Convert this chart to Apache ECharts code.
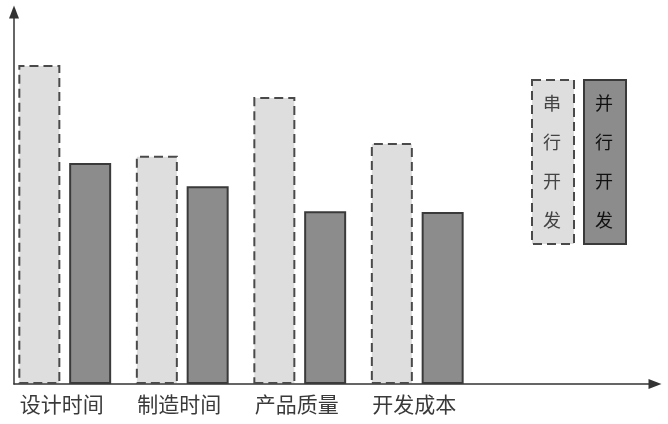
<!DOCTYPE html>
<html>
<head>
<meta charset="utf-8">
<script src="https://cdn.jsdelivr.net/npm/echarts@6/dist/echarts.min.js"></script>
<style>html,body{margin:0;padding:0;background:#fff}#c{width:668px;height:424px}</style>
</head>
<body>
<div id="c"></div>
<script>
const categories = ['设计时间', '制造时间', '产品质量', '开发成本'];
const seriesNames = ['串行开发', '并行开发'];
const serialValues = [84.2, 60.2, 75.7, 63.6];
const parallelValues = [58.3, 52.2, 45.6, 45.4];

const chart = echarts.init(document.getElementById('c'), null, {renderer: 'canvas'});
const font = '"Noto Sans CJK SC", "Noto Sans", sans-serif';
const lightStyle = {color: '#dedede', borderColor: '#4a4a4a', borderWidth: 2, borderType: [9, 5]};
const darkStyle = {color: '#8c8c8c', borderColor: '#3a3a3a', borderWidth: 2};

function legendText(name, cx, color) {
  return {
    type: 'text', x: cx, y: 84, z: 100, zlevel: 1,
    style: {text: name.split('').join('\n'), fontSize: 18, lineHeight: 39,
            fontFamily: font, fill: color, align: 'center', verticalAlign: 'top',
            stroke: 'none', lineWidth: 0, opacity: 1}
  };
}

chart.setOption({
  animation: false,
  backgroundColor: '#fff',
  grid: [
    {left: 14, right: 13, top: 12, bottom: 40},
    {left: 6, width: 470, top: 5, bottom: 40}
  ],
  xAxis: [
    {gridIndex: 0, type: 'value', min: 0, max: 1,
     axisLine: {show: true, symbol: ['none', 'triangle'], symbolSize: [10, 13], lineStyle: {color: '#333', width: 1.5}},
     axisTick: {show: false}, axisLabel: {show: false}, splitLine: {show: false}},
    {gridIndex: 1, type: 'category', data: categories,
     axisLine: {show: false}, axisTick: {show: false},
     axisLabel: {fontSize: 21, color: '#3a3a3a', margin: 10, fontFamily: font, padding: [0, 6, 0, 0]}}
  ],
  yAxis: [
    {gridIndex: 0, type: 'value', min: 0, max: 1,
     axisLine: {show: true, symbol: ['none', 'triangle'], symbolSize: [10, 13], lineStyle: {color: '#333', width: 1.5}},
     axisTick: {show: false}, axisLabel: {show: false}, splitLine: {show: false}},
    {gridIndex: 1, type: 'value', min: 0, max: 100, show: false}
  ],
  legend: {
    left: 526, top: 74, orient: 'horizontal', itemGap: 8,
    itemWidth: 42, itemHeight: 164,
    formatter: function () { return ''; },
    textStyle: {fontSize: 1},
    data: [
      {name: seriesNames[0], icon: 'rect', itemStyle: lightStyle},
      {name: seriesNames[1], icon: 'rect', itemStyle: darkStyle}
    ]
  },
  graphic: [
    legendText(seriesNames[0], 552, '#444'),
    legendText(seriesNames[1], 604, '#111')
  ],
  series: [
    {name: seriesNames[0], type: 'bar', xAxisIndex: 1, yAxisIndex: 1, data: serialValues,
     barWidth: 42, barGap: '21%', itemStyle: lightStyle},
    {name: seriesNames[1], type: 'bar', xAxisIndex: 1, yAxisIndex: 1, data: parallelValues,
     barWidth: 42, barGap: '21%', itemStyle: darkStyle}
  ]
});
</script>
</body>
</html>
